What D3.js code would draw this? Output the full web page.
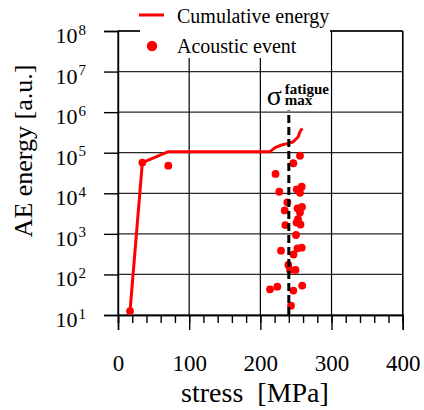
<!DOCTYPE html>
<html>
<head>
<meta charset="utf-8">
<script src="https://cdn.jsdelivr.net/npm/d3@7"></script>
<style>
  html, body { margin: 0; padding: 0; background: #fff; }
  svg { display: block; }
  svg text { font-family: "Liberation Serif", "Times New Roman", serif !important; fill: #000; }
</style>
</head>
<body>
<svg id="chart" width="424" height="410"></svg>
<script>
// Cumulative AE energy versus applied stress
const cumStress = [16.9, 34.2, 70.7, 213.6, 220.6, 230, 239.3, 246.3, 253.3, 255.7, 259];
const cumEnergy = [12.5, 5.7e4, 1.06e5, 1.06e5, 1.33e5, 1.55e5, 1.70e5, 1.86e5, 2.48e5, 3.31e5, 3.98e5];

// Individual acoustic events
const eventStress = [16.9, 34.2, 70.7, 255.7, 246.3, 221.3, 226.6, 251.1, 258.1, 255.7,
  237.9, 234.2, 252.2, 258.5, 255.7, 235.1, 250.8, 256.4, 252.9, 250.1,
  229.0, 246.6, 252.2, 258.1, 239.3, 241.7, 249.4, 213.6, 223.8, 246.3, 258.8, 243.1];
const eventEnergy = [12.5, 5.7e4, 4.8e4, 8.45e4, 5.5e4, 3.0e4, 1.09e4, 1.25e4, 1.45e4, 1.03e4,
  6.0e3, 3.77e3, 4.27e3, 4.6e3, 3.36e3, 1.65e3, 1.9e3, 1.7e3, 2.3e3, 937,
  385, 310, 441, 456, 171, 129, 129, 43, 50, 40, 53, 17];

// Fatigue limit
const sigmaMax = 240;
const sigmaSpan = [10, 1.1e6];

// Axis ticks
const xMajor = [0, 100, 200, 300, 400];
const xMinor = d3.range(0, 401, 20);
const yExponents = [1, 2, 3, 4, 5, 6, 7, 8];
const yTicks = yExponents.map(e => Math.pow(10, e));

const legendLabels = ["Cumulative energy", "Acoustic event"];

const red = "#ff0000";
const serif = '"Liberation Serif", "Times New Roman", serif';
const svg = d3.select("#chart");

const x = d3.scaleLinear().domain([0, 400]).range([118, 402.7]);
const y = d3.scaleLog().domain([10, 1e8]).range([315, 31]);

const plotLeft = x.range()[0], plotRight = x.range()[1];
const plotBottom = y.range()[0], plotTop = y.range()[1];

// Grid
const grid = svg.append("g");
grid.selectAll("line.h").data(yTicks).join("line")
  .attr("x1", plotLeft).attr("x2", plotRight)
  .attr("y1", d => y(d)).attr("y2", d => y(d))
  .attr("stroke", "#2a2a2a").attr("stroke-width", 1.2);
grid.selectAll("line.v").data(xMajor).join("line")
  .attr("x1", d => x(d)).attr("x2", d => x(d))
  .attr("y1", plotTop).attr("y2", plotBottom)
  .attr("stroke", "#000").attr("stroke-width", 1.2);

// X axis: long major ticks with labels, short minor ticks
const xAxisMinor = d3.axisBottom(x).tickValues(xMinor).tickSize(8).tickFormat("");
const xAxisMajor = d3.axisBottom(x).tickValues(xMajor).tickSize(15).tickPadding(25);
const gxMinor = svg.append("g").attr("transform", `translate(0,${plotBottom})`).call(xAxisMinor);
const gx = svg.append("g").attr("transform", `translate(0,${plotBottom})`).call(xAxisMajor);
[gxMinor, gx].forEach(g => {
  g.attr("font-family", null);
  g.select(".domain").attr("stroke", "#000").attr("stroke-width", 1.4);
  g.selectAll(".tick line").attr("stroke", "#000").attr("stroke-width", 1.4);
});
gx.selectAll(".tick text")
  .style("font-family", serif)
  .attr("font-size", 23).attr("fill", "#000");

// Y axis: powers of ten
const yAxis = d3.axisLeft(y).tickValues(yTicks).tickSize(14).tickFormat("");
const gy = svg.append("g").attr("transform", `translate(${plotLeft},0)`).call(yAxis);
gy.attr("font-family", null);
gy.select(".domain").attr("stroke", "#000").attr("stroke-width", 1.4);
gy.selectAll(".tick line").attr("stroke", "#000").attr("stroke-width", 1.4);
gy.selectAll(".tick text").each(function(d) {
  const t = d3.select(this)
    .attr("x", -32).attr("dy", null).attr("y", 11.5)
    .attr("text-anchor", "end")
    .style("font-family", serif)
    .attr("fill", "#000");
  t.append("tspan").attr("font-size", 22).text("10");
  t.append("tspan").attr("font-size", 15).attr("dy", -8.5).attr("dx", 1)
    .text(Math.round(Math.log10(d)));
});

// Right and top frame
svg.append("line")
  .attr("x1", plotRight).attr("x2", plotRight).attr("y1", plotTop).attr("y2", plotBottom)
  .attr("stroke", "#000").attr("stroke-width", 1.4);
svg.append("line")
  .attr("x1", plotLeft).attr("x2", plotRight).attr("y1", plotTop).attr("y2", plotTop)
  .attr("stroke", "#000").attr("stroke-width", 1.4);

// Axis titles
svg.append("text")
  .attr("transform", `translate(32,151) rotate(-90)`)
  .attr("text-anchor", "middle")
  .style("font-family", serif)
  .attr("font-size", 26)
  .text("AE energy [a.u.]");
svg.append("text")
  .attr("x", 255).attr("y", 402)
  .attr("text-anchor", "middle")
  .style("font-family", serif)
  .attr("font-size", 28)
  .style("white-space", "pre")
  .text("stress  [MPa]");

// Legend background
svg.append("rect")
  .attr("x", 140).attr("y", 0).attr("width", 190).attr("height", 58)
  .attr("fill", "#fff");

// Cumulative energy curve
const line = d3.line().x(i => x(cumStress[i])).y(i => y(cumEnergy[i]));
svg.append("path")
  .attr("d", line(d3.range(cumStress.length)))
  .attr("fill", "none").attr("stroke", red)
  .attr("stroke-width", 3).attr("stroke-linejoin", "round");

// Acoustic events
svg.append("g").selectAll("circle")
  .data(d3.range(eventStress.length)).join("circle")
  .attr("cx", i => x(eventStress[i]))
  .attr("cy", i => y(eventEnergy[i]))
  .attr("r", 3.9)
  .attr("fill", red);

// Fatigue limit marker
svg.append("line")
  .attr("x1", x(sigmaMax)).attr("x2", x(sigmaMax))
  .attr("y1", y(sigmaSpan[0])).attr("y2", y(sigmaSpan[1]))
  .attr("stroke", "#000").attr("stroke-width", 3)
  .attr("stroke-dasharray", "8,4");

// σ with stacked super/subscript
const sx = x(sigmaMax);
const sigmaLabel = svg.append("text")
  .attr("x", sx - 22).attr("y", 105)
  .style("font-family", serif);
sigmaLabel.append("tspan").attr("font-size", 28).text("σ");
sigmaLabel.append("tspan")
  .attr("x", sx - 4).attr("y", 93.5)
  .attr("font-size", 15).attr("font-weight", "bold")
  .text("fatigue");
sigmaLabel.append("tspan")
  .attr("x", sx - 4).attr("y", 105)
  .attr("font-size", 15).attr("font-weight", "bold")
  .text("max");

// Legend
const lg = svg.append("g");
lg.append("line")
  .attr("x1", 139).attr("x2", 164).attr("y1", 15).attr("y2", 15)
  .attr("stroke", red).attr("stroke-width", 3);
lg.append("circle").attr("cx", 152).attr("cy", 46).attr("r", 5.2).attr("fill", red);
lg.selectAll("text").data(legendLabels).join("text")
  .attr("x", 177).attr("y", (d, i) => i === 0 ? 22.7 : 53.3)
  .style("font-family", serif)
  .attr("font-size", 20)
  .text(d => d);
</script>
</body>
</html>
